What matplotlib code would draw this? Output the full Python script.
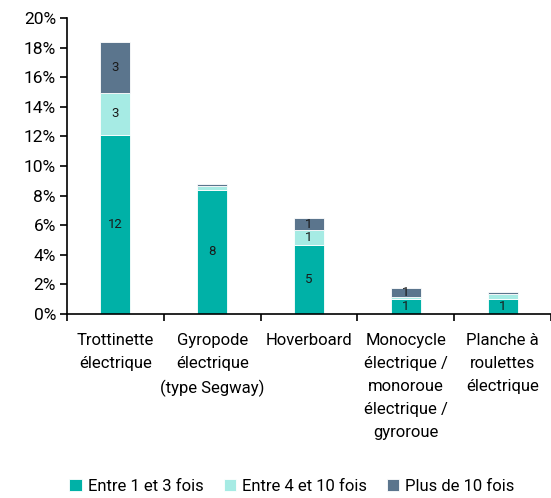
import matplotlib.pyplot as plt
import numpy as np

plt.rcParams['font.family'] = ['Roboto', 'DejaVu Sans']

categories = ["Trottinette\nélectrique", "Gyropode\nélectrique\n(type Segway)", "Hoverboard",
              "Monocycle\nélectrique /\nmonoroue\nélectrique /\ngyroroue", "Planche à\nroulettes\nélectrique"]
series_names = ["Entre 1 et 3 fois", "Entre 4 et 10 fois", "Plus de 10 fois"]
entre_1_3 = [12.1, 8.4, 4.66, 1.0, 1.03]
entre_4_10 = [2.85, 0.28, 1.01, 0.15, 0.34]
plus_10 = [3.45, 0.1, 0.79, 0.63, 0.1]
colors = ["#00B1A7", "#A6EBE4", "#5B758D"]

fig = plt.figure(figsize=(5.51, 4.98), dpi=100)
ax = fig.add_axes([0.1216, 0.3695, 0.8784, 0.5944])

x = np.arange(len(categories))
bottom = np.zeros(len(categories))
for vals, c, name in zip([entre_1_3, entre_4_10, plus_10], colors, series_names):
    vals = np.array(vals)
    ax.bar(x, vals, 0.31, bottom=bottom, color=c, edgecolor="white", linewidth=0.6, label=name)
    for xi, b, v in zip(x, bottom, vals):
        if round(v) >= 1:
            ax.text(xi, b + v / 2, f"{round(v)}", ha="center", va="center", fontsize=9.5, color="#1a1a1a")
    bottom += vals

ax.set_xlim(-0.5, len(categories) - 0.5)
ax.set_ylim(0, 20)
ax.set_yticks(range(0, 21, 2))
ax.set_yticklabels([f"{v}%" for v in range(0, 21, 2)], fontsize=12.5)
ax.set_xticks(x)
ax.set_xticklabels(categories, fontsize=12, linespacing=1.65, va="top")
ax.set_xticks(np.arange(-0.5, len(categories)), minor=True)
ax.tick_params(axis="x", which="major", length=0, pad=14)
ax.tick_params(axis="x", which="minor", length=5, width=1.2, direction="out")
ax.tick_params(axis="y", length=5, width=1.2, pad=3)
for s in ["top", "right"]:
    ax.spines[s].set_visible(False)
for s in ["left", "bottom"]:
    ax.spines[s].set_linewidth(1.2)

fig.legend(loc="center", bbox_to_anchor=(0.53, 0.024), ncol=3, frameon=False, fontsize=12,
           handlelength=0.75, handleheight=0.75, handletextpad=0.35, columnspacing=1.2)

fig.savefig("out.png", dpi=100)
